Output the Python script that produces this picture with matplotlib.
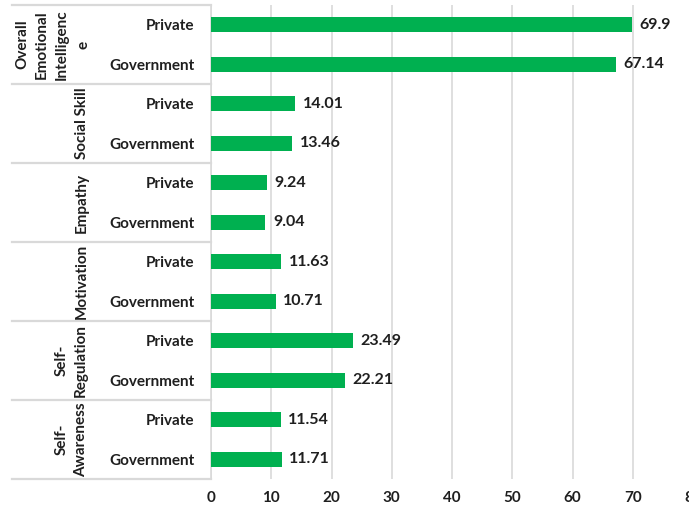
import matplotlib
matplotlib.use("Agg")
import matplotlib.pyplot as plt
import matplotlib.transforms as mtransforms
import numpy as np

# ---- data (top to bottom) ----
groups = ["Overall Emotional Intelligence", "Social Skill", "Empathy",
          "Motivation", "Self-Regulation", "Self-Awareness"]
group_label_lines = [["Overall", "Emotional", "Intelligenc", "e"],
                     ["Social Skill"], ["Empathy"], ["Motivation"],
                     ["Self-", "Regulation"], ["Self-", "Awareness"]]
sub_labels = ["Private", "Government"]
private_vals = [69.9, 14.01, 9.24, 11.63, 23.49, 11.54]
government_vals = [67.14, 13.46, 9.04, 10.71, 22.21, 11.71]
x_ticks = [0, 10, 20, 30, 40, 50, 60, 70, 80]

FONT = "Lato"
TXT = "#1f1f1f"
GREEN = "#00B050"
GRID = "#d9d9d9"
FS = 11

W, H = 689, 512
fig = plt.figure(figsize=(W / 100, H / 100), dpi=100)
ax = fig.add_axes([211 / W, 1 - 479 / H, (693 - 211) / W, (479 - 5) / H])

n = len(groups)
labels, values, ypos = [], [], []
for g in range(n):
    for s, v in enumerate([private_vals[g], government_vals[g]]):
        labels.append(sub_labels[s])
        values.append(v)
        ypos.append(2 * g + s)

ax.barh(ypos, values, height=0.37, color=GREEN, zorder=3)
ax.set_ylim(2 * n - 0.5, -0.5)
ax.set_xlim(0, 80)
ax.set_xticks(x_ticks)
ax.set_xticklabels([str(t) for t in x_ticks], fontfamily=FONT,
                   fontweight="bold", fontsize=FS, color=TXT)
ax.set_yticks(ypos)
ax.set_yticklabels(labels, fontfamily=FONT, fontweight="bold",
                   fontsize=FS, color=TXT)
ax.tick_params(axis="both", length=0)
ax.tick_params(axis="y", pad=12)
ax.tick_params(axis="x", pad=9)
ax.grid(axis="x", color=GRID, lw=1.2, zorder=0)
for sp in ["top", "right", "bottom"]:
    ax.spines[sp].set_visible(False)
ax.spines["left"].set_color(GRID)
ax.spines["left"].set_linewidth(1.2)

for y, v in zip(ypos, values):
    ax.annotate(f"{v:g}", (v, y), xytext=(5.5, 0), textcoords="offset points",
                va="center", ha="left", fontfamily=FONT, fontweight="bold",
                fontsize=FS + 0.5, color=TXT)

# group separators
trans = mtransforms.blended_transform_factory(fig.transFigure, ax.transData)
for b in np.arange(n + 1) * 2 - 0.5:
    ax.plot([12 / W, 211 / W], [b, b], transform=trans, color=GRID,
            lw=1.6, clip_on=False, zorder=1)

# group labels (rotated)
for g, lines in enumerate(group_label_lines):
    yc = 2 * g + 0.5
    if len(lines) == 1:
        xs = [82]
    elif len(lines) == 2:
        xs = [62, 81]
    else:
        xs = [22, 42, 62, 84]
    for line, xp in zip(lines, xs):
        ax.text(xp / W, yc, line, transform=trans, rotation=90,
                ha="center", va="center", fontfamily=FONT,
                fontweight="bold", fontsize=FS, color=TXT)

fig.savefig("out.png", dpi=100)
